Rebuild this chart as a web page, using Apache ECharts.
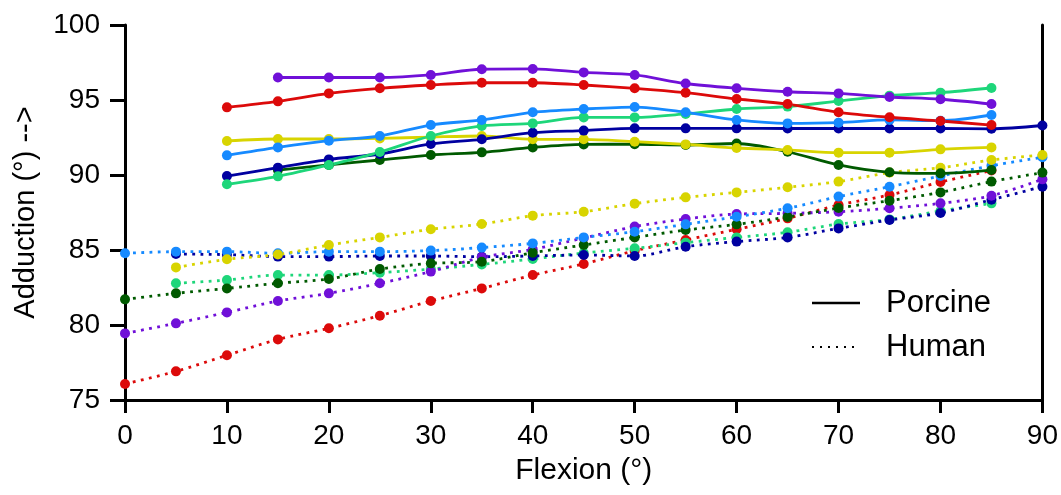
<!DOCTYPE html>
<html>
<head>
<meta charset="utf-8">
<script src="https://cdn.jsdelivr.net/npm/echarts@6/dist/echarts.min.js"></script>
<style>
  html, body { margin: 0; padding: 0; background: #fff; }
  #chart { width: 1061px; height: 495px; }
</style>
</head>
<body>
<div id="chart"></div>
<script>
// Flexion angles (°) at which adduction was measured
const flexion = [0, 5, 10, 15, 20, 25, 30, 35, 40, 45, 50, 55, 60, 65, 70, 75, 80, 85, 90];

// Porcine specimens (solid lines); null = not measured
const porcinePurple = [null, null, null, 96.5, 96.5, 96.5, 96.67, 97.05, 97.07, 96.84, 96.67, 96.1, 95.78, 95.55, 95.44, 95.2, 95.05, 94.73, null];
const porcineRed    = [null, null, 94.51, 94.91, 95.44, 95.78, 96.0, 96.15, 96.15, 96.0, 95.78, 95.49, 95.07, 94.73, 94.18, 93.85, 93.6, 93.33, null];
const porcineBlue   = [null, null, 91.31, 91.84, 92.29, 92.6, 93.33, 93.67, 94.18, 94.4, 94.53, 94.18, 93.67, 93.44, 93.49, 93.67, 93.62, 94.0, null];
const porcineGreen  = [null, null, 89.38, 89.91, 90.67, 91.53, 92.6, 93.27, 93.44, 93.84, 93.84, 94.07, 94.4, 94.56, 94.93, 95.29, 95.49, 95.8, null];
const porcineNavy   = [null, null, 89.93, 90.49, 91.04, 91.4, 92.07, 92.38, 92.82, 92.96, 93.11, 93.11, 93.11, 93.1, 93.1, 93.1, 93.1, 93.08, 93.3];
const porcineDkGreen= [null, null, null, 90.33, 90.67, 91.0, 91.33, 91.51, 91.84, 92.04, 92.05, 92.0, 92.1, 91.55, 90.67, 90.18, 90.11, 90.33, null];
const porcineYellow = [null, null, 92.27, 92.4, 92.4, 92.44, 92.53, 92.6, 92.38, 92.38, 92.22, 92.04, 91.8, 91.67, 91.49, 91.49, 91.71, 91.84, null];

// Human specimens (dotted lines)
const humanPurple = [79.44, 80.11, 80.84, 81.6, 82.11, 82.78, 83.56, 84.51, 85.04, 85.8, 86.56, 87.07, 87.4, 87.44, 87.55, 87.78, 88.11, 88.62, 89.71];
const humanRed    = [76.07, 76.91, 77.98, 79.04, 79.78, 80.62, 81.6, 82.44, 83.33, 84.07, 84.95, 85.67, 86.38, 87.11, 88.0, 88.67, 89.53, 90.3, null];
const humanBlue   = [84.78, 84.89, 84.89, 84.78, 84.89, 84.89, 84.96, 85.16, 85.44, 85.84, 86.22, 86.71, 87.22, 87.78, 88.56, 89.22, 89.93, 90.62, 91.18];
const humanGreen  = [null, 82.78, 83.0, 83.33, 83.33, 83.49, 83.73, 84.04, 84.4, 84.8, 85.11, 85.49, 85.84, 86.18, 86.73, 87.04, 87.6, 88.11, null];
const humanNavy   = [null, 84.73, 84.69, 84.56, 84.56, 84.6, 84.6, 84.55, 84.6, 84.67, 84.6, 85.22, 85.56, 85.84, 86.44, 87.0, 87.47, 88.35, 89.22];
const humanDkGreen= [81.71, 82.11, 82.44, 82.78, 83.07, 83.73, 84.11, 84.22, 84.82, 85.33, 85.84, 86.33, 86.71, 87.2, 87.8, 88.29, 88.84, 89.56, 90.16];
const humanYellow = [null, 83.84, 84.38, 84.7, 85.33, 85.84, 86.38, 86.73, 87.29, 87.55, 88.09, 88.51, 88.84, 89.18, 89.56, 90.16, 90.48, 91.0, 91.33];

const yTicks = [75, 80, 85, 90, 95, 100];
const xTicks = [0, 10, 20, 30, 40, 50, 60, 70, 80, 90];
const legendLabels = ['Porcine', 'Human'];

const colors = {
  purple: '#7010d8', red: '#dc0a0a', blue: '#168aff', green: '#1ed67a',
  navy: '#0000a0', dkgreen: '#005a00', yellow: '#d8d400'
};

const FONT = '"Liberation Sans", Arial, sans-serif';

function pairs(values) {
  const out = [];
  values.forEach((v, i) => { if (v !== null) out.push([flexion[i], v]); });
  return out;
}

function specimen(values, color, dotted) {
  return {
    type: 'line',
    data: pairs(values),
    smooth: 0.3,
    symbol: 'circle',
    symbolSize: 10,
    color: color,
    itemStyle: { color: color },
    lineStyle: dotted
      ? { color: color, width: 2.8, type: [2.8, 5.4], cap: 'butt' }
      : { color: color, width: 2.8 },
    emphasis: { disabled: true },
    z: dotted ? 2 : 3
  };
}

const series = [
  specimen(humanRed, colors.red, true),
  specimen(humanGreen, colors.green, true),
  specimen(humanNavy, colors.navy, true),
  specimen(humanPurple, colors.purple, true),
  specimen(humanDkGreen, colors.dkgreen, true),
  specimen(humanBlue, colors.blue, true),
  specimen(humanYellow, colors.yellow, true),
  specimen(porcineDkGreen, colors.dkgreen, false),
  specimen(porcineYellow, colors.yellow, false),
  specimen(porcineNavy, colors.navy, false),
  specimen(porcineGreen, colors.green, false),
  specimen(porcineBlue, colors.blue, false),
  specimen(porcineRed, colors.red, false),
  specimen(porcinePurple, colors.purple, false)
];

// Line-style key in the lower right of the plot
function legendKey(label, y, dashed) {
  return [
    { type: 'line', shape: { x1: 812, y1: y, x2: 860, y2: y },
      style: dashed
        ? { stroke: '#000', lineWidth: 2, lineDash: [2, 6], lineCap: 'butt' }
        : { stroke: '#000', lineWidth: 2.5 } },
    { type: 'text', x: 886, y: y, style: { text: label, fill: '#000',
      font: '31px ' + FONT, textVerticalAlign: 'middle', textAlign: 'left' } }
  ];
}

const chart = echarts.init(document.getElementById('chart'), null, { renderer: 'canvas' });
chart.setOption({
  animation: false,
  backgroundColor: '#fff',
  grid: { left: 125, right: 18, top: 25, bottom: 95, containLabel: false },
  xAxis: {
    type: 'value', min: 0, max: 90, interval: 10,
    name: 'Flexion (°)', nameLocation: 'middle', nameGap: 56,
    nameTextStyle: { fontFamily: FONT, fontSize: 30, color: '#000' },
    axisLine: { lineStyle: { color: '#000', width: 3 } },
    axisTick: { inside: false, length: 13, lineStyle: { color: '#000', width: 3 } },
    axisLabel: { fontFamily: FONT, fontSize: 28, color: '#000', margin: 22,
      formatter: v => xTicks.includes(v) ? String(v) : '' },
    splitLine: { show: false }
  },
  yAxis: [{
    type: 'value', min: 75, max: 100, interval: 5,
    name: 'Adduction (°) -->', nameLocation: 'middle', nameGap: 85, nameRotate: 90,
    nameTextStyle: { fontFamily: FONT, fontSize: 29, color: '#000' },
    axisLine: { show: true, lineStyle: { color: '#000', width: 3 } },
    axisTick: { show: true, inside: false, length: 15, lineStyle: { color: '#000', width: 3 } },
    axisLabel: { fontFamily: FONT, fontSize: 28, color: '#000', margin: 25,
      formatter: v => yTicks.includes(v) ? String(v) : '' },
    splitLine: { show: false }
  }, {
    type: 'value', min: 75, max: 100, interval: 5, position: 'right',
    axisLine: { show: true, lineStyle: { color: '#000', width: 3 } },
    axisTick: { show: false }, axisLabel: { show: false }, splitLine: { show: false }
  }],
  graphic: [
    ...legendKey(legendLabels[0], 303, false),
    ...legendKey(legendLabels[1], 347, true)
  ],
  series: series
});
</script>
</body>
</html>
